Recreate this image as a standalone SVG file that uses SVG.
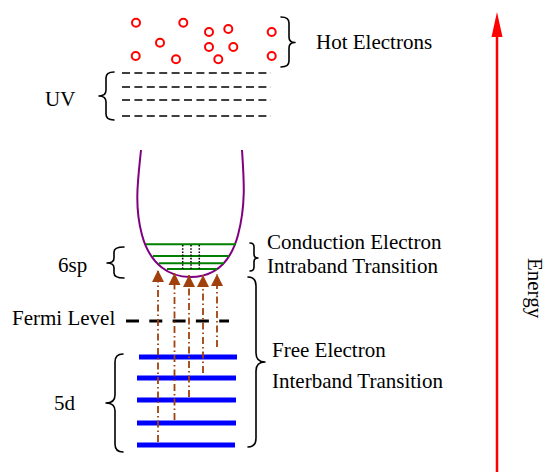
<svg xmlns="http://www.w3.org/2000/svg" width="547" height="472" viewBox="0 0 547 472">
<defs>
<style>
text{font-family:"Liberation Serif","Times New Roman",serif;font-size:21px;fill:#000}
.hot{fill:none;stroke:#ff0000;stroke-width:2}
.brace{fill:none;stroke:#000;stroke-width:1.6;stroke-linecap:round;stroke-linejoin:round}
.uv{stroke:#000;stroke-width:1.6;stroke-dasharray:8,4.4}
.green{stroke:#008000;stroke-width:2}
.dot{stroke:#000;stroke-width:1.5;stroke-dasharray:1.6,1.6}
.blue{stroke:#0000ff;stroke-width:5}
.tr{stroke:#a0410d;stroke-width:1.8;stroke-dasharray:7,3,1.5,3;fill:none}
</style>
<marker id="ah" markerUnits="userSpaceOnUse" markerWidth="14" markerHeight="14" viewBox="0 0 14 14" refX="12" refY="7" orient="auto">
<path d="M0,1 L12,7 L0,13 Z" fill="#a0410d"/>
</marker>
</defs>
<rect width="547" height="472" fill="#fff"/>

<g id="hot-electrons">
<circle class="hot" cx="136" cy="22.7" r="4"/>
<circle class="hot" cx="183.3" cy="22.7" r="4"/>
<circle class="hot" cx="160" cy="42.7" r="4"/>
<circle class="hot" cx="135.7" cy="56" r="4"/>
<circle class="hot" cx="176" cy="59.3" r="4"/>
<circle class="hot" cx="209" cy="32" r="4"/>
<circle class="hot" cx="228.3" cy="29" r="4"/>
<circle class="hot" cx="209" cy="47" r="4"/>
<circle class="hot" cx="233.3" cy="47" r="4"/>
<circle class="hot" cx="218.3" cy="59.3" r="4"/>
<circle class="hot" cx="271.7" cy="32" r="4"/>
<circle class="hot" cx="271.7" cy="56" r="4"/>
<path class="brace" d="M281,17 Q289,17 289,23 V37 Q289,42.5 295,42.5 Q289,42.5 289,48 V61 Q289,67 281,67"/>
<text x="316" y="49" font-family="Liberation Serif, serif">Hot Electrons</text>
</g>

<g id="uv">
<line class="uv" x1="122" y1="73" x2="271" y2="73"/>
<line class="uv" x1="122" y1="87" x2="271" y2="87"/>
<line class="uv" x1="122" y1="100" x2="271" y2="100"/>
<line class="uv" x1="122" y1="116" x2="271" y2="116"/>
<path class="brace" d="M114,72 Q106,72 106,78 V90 Q106,96 99,96 Q106,96 106,102 V114 Q106,120 114,120"/>
<text x="45" y="106">UV</text>
</g>

<g id="conduction-band">
<path d="M141,150 C138,180 134,205 142,235 C150,265 170,277 190,277 C212,277 230,265 238,235 C246,205 244,180 242,150" fill="none" stroke="#800080" stroke-width="2"/>
<line class="green" x1="146" y1="244.3" x2="236" y2="244.3"/>
<line class="green" x1="153" y1="256" x2="229" y2="256"/>
<line class="green" x1="159" y1="263.3" x2="224" y2="263.3"/>
<line class="green" x1="167" y1="269" x2="217" y2="269"/>
<line class="dot" x1="182.7" y1="245" x2="182.7" y2="270"/>
<line class="dot" x1="191" y1="245" x2="191" y2="270"/>
<line class="dot" x1="199.3" y1="245" x2="199.3" y2="270"/>
</g>

<g id="label-6sp">
<path class="brace" d="M124,247 Q114,247 114,252 V258 Q114,263 107,263 Q114,263 114,268 V273 Q114,278 124,278"/>
<text x="58" y="272">6sp</text>
</g>

<g id="conduction-label">
<path class="brace" d="M250,243 Q254,243 254,247 V254 Q254,258 258,258 Q254,258 254,262 V267 Q254,271 250,271"/>
<text x="267" y="249">Conduction Electron</text>
<text x="267" y="273">Intraband Transition</text>
</g>

<g id="fermi-level">
<line x1="126" y1="321" x2="229" y2="321" stroke="#000" stroke-width="3" stroke-dasharray="13,10.3"/>
<text x="12" y="325">Fermi Level</text>
</g>

<g id="band-5d">
<line class="blue" x1="139" y1="357" x2="237" y2="357"/>
<line class="blue" x1="137" y1="378" x2="236" y2="378"/>
<line class="blue" x1="137" y1="400" x2="236" y2="400"/>
<line class="blue" x1="137" y1="423" x2="236" y2="423"/>
<line class="blue" x1="137" y1="445" x2="235" y2="445"/>
<path class="brace" d="M123,354 Q115,354 115,362 V395 Q115,403 106,403 Q115,403 115,411 V444 Q115,452 123,452"/>
<text x="54" y="410">5d</text>
</g>

<g id="free-electron-label">
<path class="brace" d="M248,277 Q256,277 256,286 V353 Q256,362 265,362 Q256,362 256,371 V438 Q256,447 248,447"/>
<text x="272" y="357">Free Electron</text>
<text x="272" y="388">Interband Transition</text>
</g>

<g id="energy-axis">
<line x1="497" y1="472" x2="497" y2="34" stroke="#ff0000" stroke-width="2.5"/>
<polygon points="497,12 491.5,37 502.5,37" fill="#ff0000"/>
<text transform="translate(528,288) rotate(90)" text-anchor="middle">Energy</text>
</g>

<g id="connectors">
<line class="tr" x1="158" y1="442" x2="158" y2="270" marker-end="url(#ah)"/>
<line class="tr" x1="174.5" y1="420" x2="174.5" y2="273" marker-end="url(#ah)"/>
<line class="tr" x1="189" y1="397" x2="189" y2="275" marker-end="url(#ah)"/>
<line class="tr" x1="203" y1="373" x2="203" y2="275" marker-end="url(#ah)"/>
<line class="tr" x1="217" y1="347" x2="217" y2="274" marker-end="url(#ah)"/>
</g>
</svg>
